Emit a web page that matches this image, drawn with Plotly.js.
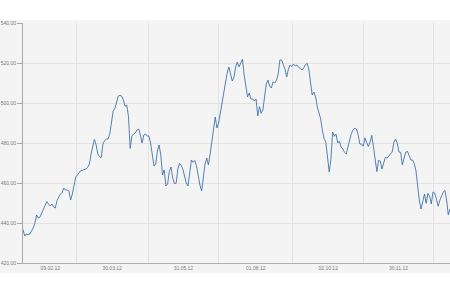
<!DOCTYPE html>
<html>
<head>
<meta charset="utf-8">
<script src="https://cdn.plot.ly/plotly-3.0.1.min.js"></script>
<style>
  html, body { margin: 0; padding: 0; background: #ffffff; width: 450px; height: 300px; overflow: hidden; }
  #chart { position: absolute; left: 0; top: 0; width: 450px; height: 300px; }
</style>
</head>
<body>
<div id="chart"></div>
<script>
// Daily closing values (trading-day index order)
const prices = [
  436.8, 433.5, 434.5, 434.2, 434.5, 436.0, 437.5, 440.0, 444.0, 442.5,
  443.0, 445.0, 447.2, 449.0, 450.7, 449.5, 448.5, 449.5, 448.0, 447.5,
  451.2, 453.0, 454.5, 455.2, 457.5, 456.5, 456.5, 456.0, 451.5, 454.5,
  459.5, 463.0, 464.0, 465.5, 466.3, 466.4, 466.7, 467.0, 467.8, 469.5,
  474.5, 479.0, 481.8, 479.0, 474.5, 473.0, 472.7, 479.5, 481.2, 482.0,
  482.0, 484.5, 491.0, 496.0, 497.2, 501.0, 503.5, 503.8, 503.5, 501.6,
  498.3, 499.0, 493.2, 477.3, 483.5, 484.5, 485.0, 486.5, 487.0, 484.0,
  480.0, 484.0, 484.5, 483.5, 483.5, 480.0, 474.5, 468.5, 469.5, 476.0,
  479.0, 474.0, 464.0, 466.5, 458.5, 459.5, 465.7, 468.0, 462.5, 459.8,
  459.8, 467.0, 469.8, 468.8, 466.8, 463.0, 460.0, 458.5, 465.0, 471.5,
  470.3, 471.3, 468.5, 463.0, 459.0, 456.0, 463.0, 469.5, 472.5, 469.0,
  474.5, 480.0, 487.0, 493.0, 487.5, 490.0, 495.0, 500.0, 506.0, 509.5,
  515.0, 518.0, 514.0, 511.0, 512.8, 518.0, 520.5, 518.0, 520.0, 522.0,
  514.0, 509.0, 503.0, 505.0, 502.0, 502.0, 501.0, 502.0, 493.5, 498.2,
  494.8, 496.5, 503.0, 509.5, 511.5, 508.5, 507.5, 510.5, 510.0, 511.5,
  514.5, 521.5, 521.5, 519.5, 517.0, 513.0, 517.0, 519.0, 518.2, 519.5,
  518.5, 519.0, 517.8, 517.3, 516.5, 517.5, 519.2, 519.8, 517.0, 510.5,
  504.0, 505.5, 503.0, 498.0, 495.0, 492.0, 486.0, 482.3, 480.5, 473.5,
  465.5, 472.0, 485.5, 483.3, 484.5, 480.0, 481.0, 478.0, 477.0, 475.3,
  474.5, 478.0, 482.3, 484.7, 486.6, 487.3, 487.0, 484.2, 479.5, 479.5,
  478.4, 482.6, 480.2, 478.3, 480.5, 483.8, 478.2, 471.5, 465.7, 471.3,
  471.0, 467.0, 469.5, 472.8, 472.5, 473.6, 474.6, 475.5, 480.3, 482.0,
  480.0, 475.5, 475.3, 469.0, 472.5, 475.5, 475.8, 473.5, 471.5, 471.5,
  469.7, 466.0, 456.5, 451.0, 447.0, 450.5, 454.5, 449.8, 454.8, 453.5,
  449.5, 455.5, 455.0, 452.0, 448.4, 451.3, 453.6, 455.4, 456.4, 451.5,
  444.0, 447.0
];
const dayIndex = prices.map((_, i) => i);

// Date labels and where they sit (trading-day index)
const dateLabels = ["09.02.12", "30.03.12", "31.05.12", "01.08.12", "02.10.12", "30.11.12"];
const labelIndex = [16, 52.4, 94.3, 136.8, 179.4, 220.7];
// Vertical grid separators (trading-day index)
const gridIndex = [31.3, 73.5, 115.2, 158.5, 200.2, 241.2];

const axisFont = { family: "Liberation Sans, Arial, sans-serif", size: 5, color: "#7a7a7a" };

const trace = {
  x: dayIndex,
  y: prices,
  type: "scatter",
  mode: "lines",
  line: { color: "#4274a9", width: 0.9 },
  hoverinfo: "skip"
};

const L = 23, R = 0, T = 23, B = 37;
const plotW = 450 - L - R, plotH = 300 - T - B;

const layout = {
  width: 450,
  height: 300,
  margin: { l: L, r: R, t: T, b: B, pad: 0 },
  paper_bgcolor: "#ffffff",
  plot_bgcolor: "rgba(0,0,0,0)",
  showlegend: false,
  shapes: [{
    type: "rect", xref: "paper", yref: "paper", layer: "below",
    x0: -L / plotW, x1: 1 + 1 / plotW,
    y0: -10 / plotH, y1: 1 + 3 / plotH,
    fillcolor: "#f4f4f4", line: { width: 0 }
  }],
  xaxis: {
    range: [0, prices.length - 1],
    tickmode: "array",
    tickvals: labelIndex,
    ticktext: dateLabels,
    showgrid: false,
    zeroline: false,
    showline: true,
    linecolor: "#b0b0b0",
    linewidth: 1,
    ticks: "",
    tickfont: axisFont,
    minor: { tickmode: "array", tickvals: gridIndex, showgrid: true, gridcolor: "#e2e2e2", gridwidth: 1, ticks: "" }
  },
  yaxis: {
    range: [420, 540],
    tickmode: "linear",
    tick0: 420,
    dtick: 20,
    tickformat: ".2f",
    showgrid: true,
    gridcolor: "#e2e2e2",
    gridwidth: 1,
    zeroline: false,
    showline: true,
    linecolor: "#a8a8a8",
    linewidth: 1,
    ticks: "outside",
    ticklen: 5,
    tickcolor: "#a8a8a8",
    tickfont: axisFont
  }
};

Plotly.newPlot("chart", [trace], layout, { displayModeBar: false, staticPlot: true });
</script>
</body>
</html>
